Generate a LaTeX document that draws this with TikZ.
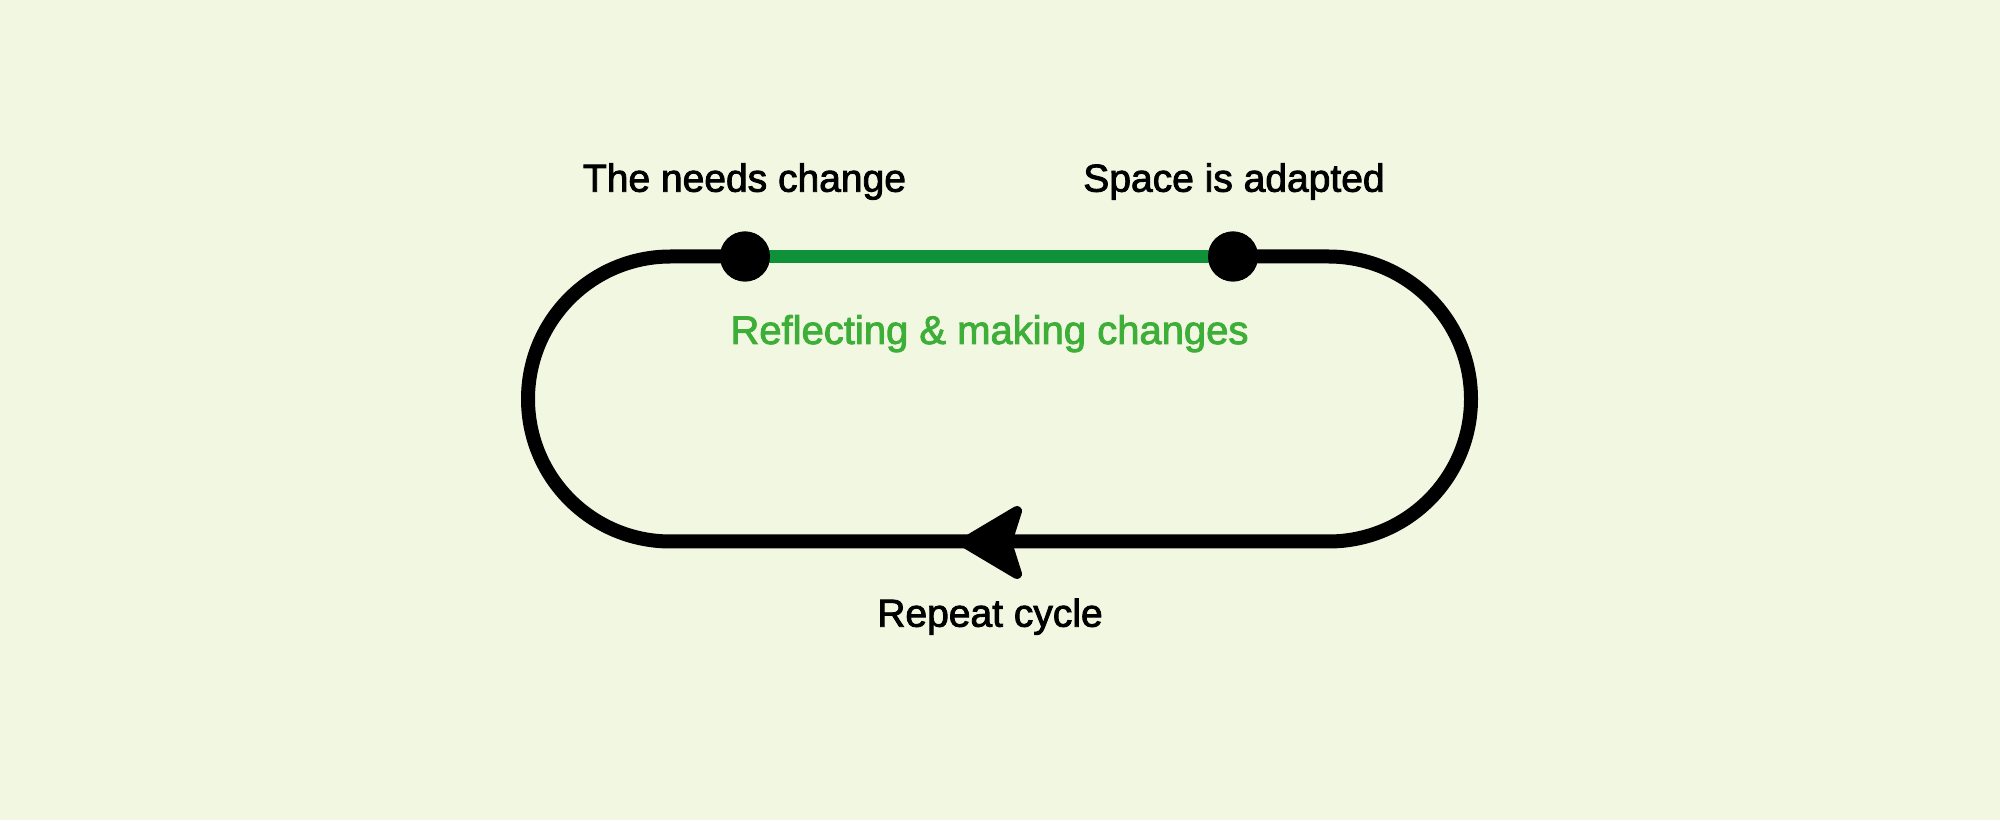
\documentclass[tikz,border=0pt]{standalone}
\usepackage{fontspec}
\setmainfont{Liberation Sans}[FakeBold=2.2]
\definecolor{bgcol}{HTML}{F2F7E1}
\definecolor{linegreen}{HTML}{0F913A}
\definecolor{textgreen}{HTML}{3DAE38}
\begin{document}
\begin{tikzpicture}[x=1pt,y=1pt,
  blackline/.style={draw=black,line width=14pt},
  greenline/.style={draw=linegreen,line width=13pt},
  dotnode/.style={circle,fill=black,inner sep=0pt,minimum size=50pt},
  lbl/.style={anchor=base,inner sep=0pt,font=\fontsize{39}{45}\selectfont,text=black},
  glbl/.style={anchor=base,inner sep=0pt,font=\fontsize{40}{46}\selectfont,text=textgreen},
  headstyle/.style={fill=black,draw=black,line width=10pt,line join=round}]
\useasboundingbox (0,0) rectangle (2000,820);
\fill[bgcol] (0,0) rectangle (2000,820);
% geometry
\coordinate (tl) at (670.5,563.5);
\coordinate (tr) at (1328.5,563.5);
\coordinate (bl) at (670.5,278.5);
\coordinate (br) at (1328.5,278.5);
\node[dotnode] (d1) at (745,563.5) {};
\node[dotnode] (d2) at (1233,563.5) {};
% loop
\draw[blackline] (d2.center) -- (tr) arc[start angle=90,end angle=-90,radius=142.5] -- (bl) arc[start angle=270,end angle=90,radius=142.5] -- (d1.center);
\draw[greenline] (d1.center) -- (d2.center);
\node[dotnode] at (d1) {};
\node[dotnode] at (d2) {};
% arrowhead
\coordinate (atip) at (964,277.5);
\coordinate (aup) at (1017,309);
\coordinate (anotch) at (1007,277.5);
\coordinate (alow) at (1017,246);
\filldraw[headstyle] (atip) -- (aup) -- (anotch) -- (alow) -- cycle;
% labels
\node[lbl] (t1) at (744.5,628.3) {The needs change};
\node[lbl] (t2) at (1234,628.3) {Space is adapted};
\node[glbl] (t3) at (989.5,476) {Reflecting \& making changes};
\node[lbl] (t4) at (990,193.3) {Repeat cycle};
\end{tikzpicture}
\end{document}
